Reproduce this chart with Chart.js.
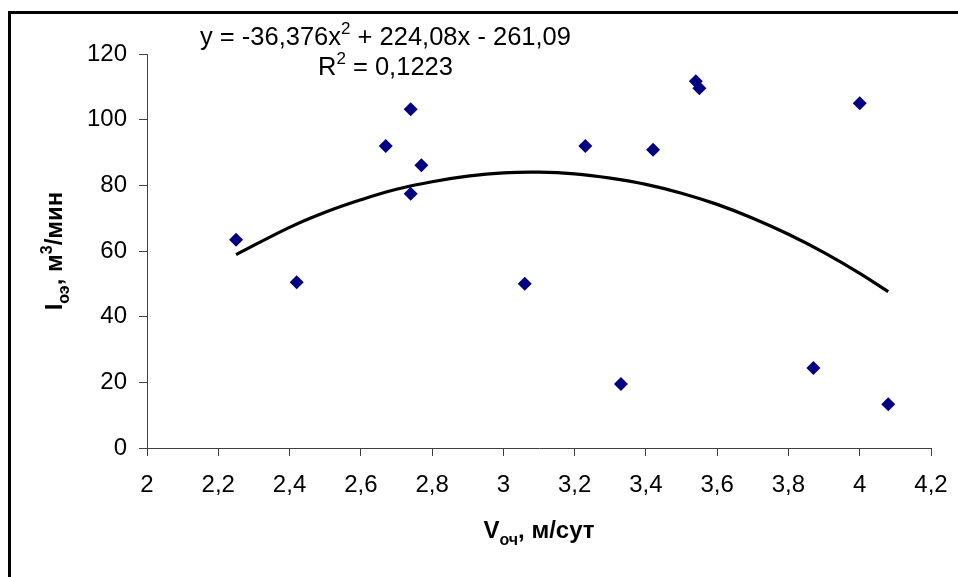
<!DOCTYPE html>
<html>
<head>
<meta charset="utf-8">
<script src="https://cdn.jsdelivr.net/npm/chart.js@4.4.1/dist/chart.umd.min.js"></script>
<style>
html,body{margin:0;padding:0;background:#fff;}
#wrap{width:958px;height:577px;position:relative;}
</style>
</head>
<body>
<div id="wrap"><canvas id="c"></canvas></div>
<script>
// Observed data (Vоч, м/сут ; Iоэ, м³/мин)
const xValues = [2.25, 2.42, 2.67, 2.74, 2.74, 2.77, 3.06, 3.23, 3.33, 3.42, 3.54, 3.55, 3.87, 4.00, 4.08];
const yValues = [63.4, 50.5, 92.0, 103.2, 77.4, 86.1, 50.0, 92.0, 19.5, 90.8, 111.7, 109.6, 24.4, 105.0, 13.3];

// Trendline
const trendX = [2.25, 2.4, 2.5, 2.6, 2.7, 2.8, 2.9, 3.0, 3.1, 3.2, 3.3, 3.4, 3.5, 3.6, 3.7, 3.8, 3.9, 4.0, 4.08];
const trendY = [58.9, 67.2, 71.8, 75.6, 78.8, 81.1, 82.8, 83.8, 84.0, 83.5, 82.2, 80.3, 77.6, 74.2, 70.0, 65.1, 59.5, 53.2, 47.6];

// Ticks
const xTicks = [2, 2.2, 2.4, 2.6, 2.8, 3, 3.2, 3.4, 3.6, 3.8, 4, 4.2];
const xTickLabels = ['2', '2,2', '2,4', '2,6', '2,8', '3', '3,2', '3,4', '3,6', '3,8', '4', '4,2'];
const yTicks = [0, 20, 40, 60, 80, 100, 120];
const yTickLabels = ['0', '20', '40', '60', '80', '100', '120'];

const eqLine1 = [['y = -36,376x', 0], ['2', 1], [' + 224,08x - 261,09', 0]];
const eqLine2 = [['R', 0], ['2', 1], [' = 0,1223', 0]];
const xTitle = [['V', 0], ['оч', -1], [', м/сут', 0]];
const yTitle = [['I', 0], ['оэ', -1], [', м', 0], ['3', 1], ['/мин', 0]];

const FONT = '"Liberation Sans", Arial, sans-serif';
const AXIS = '#404040';

function segSize(size, k) { return k === 0 ? size : Math.round(size * 0.68); }
function richWidth(ctx, segs, size, bold) {
  let w = 0;
  for (const [t, k] of segs) {
    ctx.font = (bold ? 'bold ' : '') + segSize(size, k) + 'px ' + FONT;
    w += ctx.measureText(t).width;
  }
  return w;
}
function drawRich(ctx, segs, x, y, size, bold) {
  let cx = x;
  ctx.textBaseline = 'alphabetic';
  ctx.textAlign = 'left';
  for (const [t, k] of segs) {
    ctx.font = (bold ? 'bold ' : '') + segSize(size, k) + 'px ' + FONT;
    const dy = k === 1 ? -size * 0.42 : (k === -1 ? size * 0.3 : 0);
    ctx.fillText(t, cx, y + dy);
    cx += ctx.measureText(t).width;
  }
}

const decor = {
  id: 'decor',
  afterDraw(chart) {
    const ctx = chart.ctx;
    ctx.save();
    // outer frame
    ctx.strokeStyle = '#000';
    ctx.lineWidth = 3;
    ctx.strokeRect(9.5, 12.5, 1200, 1200);
    ctx.fillStyle = '#000';
    // equation
    drawRich(ctx, eqLine1, 200, 45, 25.5, false);
    drawRich(ctx, eqLine2, 318, 75, 25.5, false);
    // x title
    const ca = chart.chartArea;
    const xw = richWidth(ctx, xTitle, 24, true);
    drawRich(ctx, xTitle, (ca.left + ca.right) / 2 - xw / 2, 538, 24, true);
    // y title
    const yw = richWidth(ctx, yTitle, 24, true);
    ctx.translate(62, (ca.top + ca.bottom) / 2);
    ctx.rotate(-Math.PI / 2);
    drawRich(ctx, yTitle, -yw / 2, 0, 24, true);
    ctx.restore();
  }
};

const ctx = document.getElementById('c').getContext('2d');
new Chart(ctx, {
  type: 'scatter',
  data: {
    datasets: [
      {
        label: 'data',
        data: xValues.map((x, i) => ({ x, y: yValues[i] })),
        pointStyle: 'rectRot',
        pointRadius: 7,
        pointHoverRadius: 7,
        backgroundColor: '#000080',
        borderColor: '#000080',
        borderWidth: 0,
        showLine: false
      },
      {
        label: 'trend',
        data: trendX.map((x, i) => ({ x, y: trendY[i] })),
        showLine: true,
        pointRadius: 0,
        borderColor: '#000',
        borderWidth: 3.2,
        tension: 0.4,
        fill: false
      }
    ]
  },
  options: {
    responsive: true,
    maintainAspectRatio: false,
    animation: false,
    events: [],
    layout: { padding: { left: 0, top: 54, right: 27, bottom: 0 } },
    plugins: { legend: { display: false }, tooltip: { enabled: false } },
    scales: {
      x: {
        type: 'linear',
        min: 2, max: 4.2,
        afterBuildTicks(s) { s.ticks = xTicks.map(v => ({ value: v })); },
        afterFit(s) { s.height = 577 - 448; s.paddingLeft = 0; s.paddingRight = 0; },
        ticks: {
          callback: (v, i) => xTickLabels[i],
          font: { family: FONT, size: 24 },
          color: '#000',
          padding: 15,
          maxRotation: 0,
          autoSkip: false
        },
        grid: { display: true, drawOnChartArea: false, drawTicks: true, tickLength: 8, color: AXIS, lineWidth: 1 },
        border: { display: true, color: AXIS, width: 1 }
      },
      y: {
        type: 'linear',
        min: 0, max: 120,
        afterBuildTicks(s) { s.ticks = yTicks.map(v => ({ value: v })); },
        afterFit(s) { s.width = 147; s.paddingTop = 0; s.paddingBottom = 0; },
        ticks: {
          callback: (v, i) => yTickLabels[i],
          font: { family: FONT, size: 24 },
          color: '#000',
          padding: 12,
          autoSkip: false
        },
        grid: { display: true, drawOnChartArea: false, drawTicks: true, tickLength: 8, color: AXIS, lineWidth: 1 },
        border: { display: true, color: AXIS, width: 1 }
      }
    }
  },
  plugins: [decor]
});
</script>
</body>
</html>
